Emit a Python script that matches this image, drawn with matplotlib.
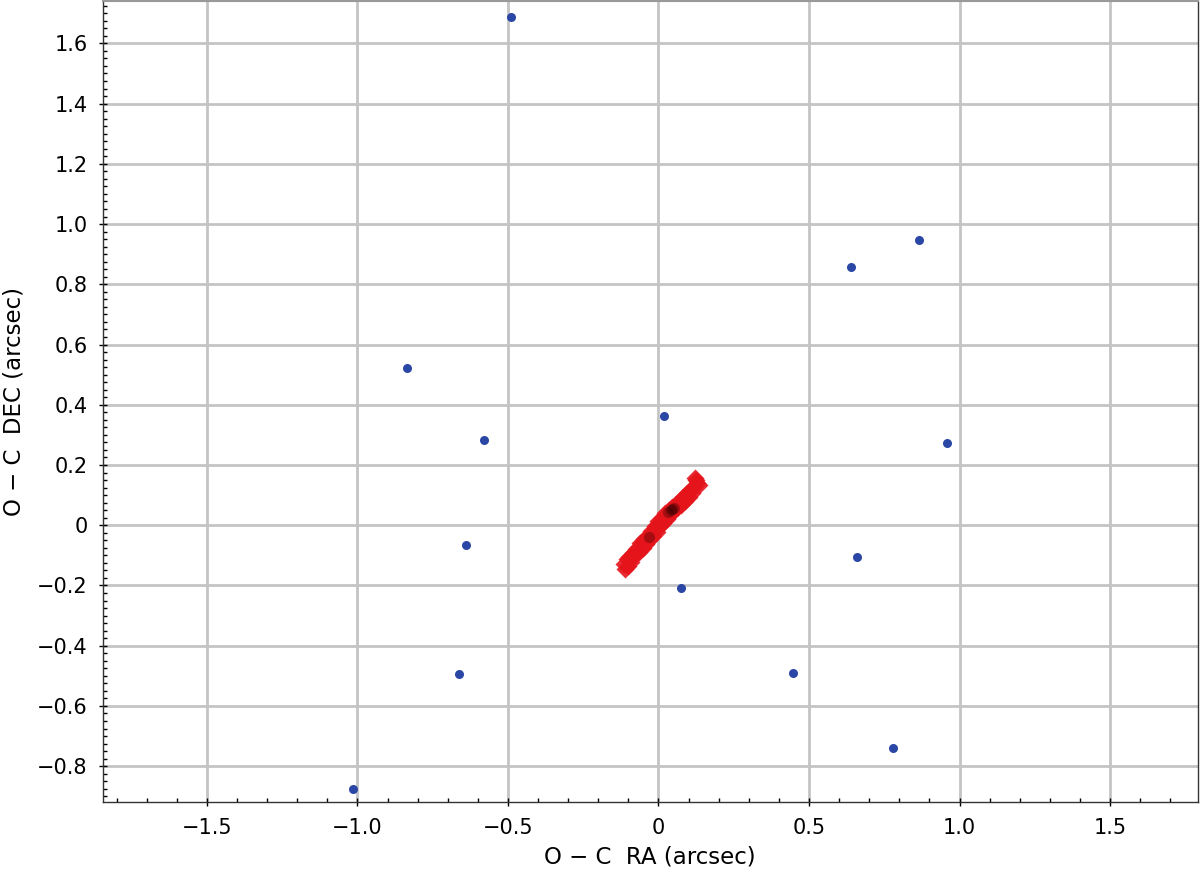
import matplotlib
matplotlib.use("Agg")
import matplotlib.pyplot as plt
from matplotlib.ticker import MultipleLocator, FuncFormatter

# O-C residuals, blue = reference stars, red = target
blue_ra = [-0.490, 0.865, 0.641, -0.837, 0.018, -0.581, 0.958, -0.641,
           0.659, 0.075, -0.663, 0.446, 0.779, -1.016]
blue_dec = [1.688, 0.948, 0.859, 0.522, 0.363, 0.283, 0.274, -0.065,
            -0.107, -0.207, -0.494, -0.492, -0.740, -0.875]

red_ra = [-0.115, -0.112, -0.106, -0.102, -0.097, -0.092, -0.085, -0.078,
          -0.074, -0.066, -0.060, -0.053, -0.048, -0.042, -0.036, -0.030,
          -0.025, -0.018, -0.012, -0.006, 0.000, 0.006, 0.010, 0.016,
          0.022, 0.028, 0.034, 0.040, 0.046, 0.052, 0.058, 0.064, 0.070,
          0.076, 0.082, 0.088, 0.094, 0.100, 0.106, 0.110, 0.118, 0.124,
          0.128, 0.136, 0.120, -0.090, -0.050, -0.010, 0.030, 0.070]
red_dec = [-0.128, -0.147, -0.112, -0.135, -0.105, -0.122, -0.092, -0.100,
           -0.080, -0.088, -0.060, -0.075, -0.045, -0.062, -0.035, -0.050,
           -0.020, -0.035, -0.002, -0.022, 0.015, -0.004, 0.025, 0.008,
           0.040, 0.020, 0.052, 0.038, 0.062, 0.050, 0.070, 0.060, 0.085,
           0.068, 0.095, 0.080, 0.106, 0.095, 0.118, 0.108, 0.128, 0.150,
           0.140, 0.134, 0.158, -0.105, -0.052, -0.008, 0.030, 0.072]

dark_ra = [0.032, 0.040, 0.046, 0.052, -0.030]
dark_dec = [0.044, 0.052, 0.055, 0.058, -0.040]


def fmt(v, pos):
    if abs(v) < 1e-9:
        return "0"
    return f"{v:.1f}".replace("-", "\u2212")


fig = plt.figure(figsize=(12, 8.73), dpi=100)
ax = fig.add_axes([0.0856, 0.081, 0.9125, 0.918])

ax.plot(red_ra, red_dec, 'D', color='#e5141b', ms=9, mec='none', alpha=0.9, zorder=3)
ax.plot(dark_ra, dark_dec, 'o', color='#300000', ms=8, mec='none', alpha=0.35, zorder=4)
ax.plot(blue_ra, blue_dec, 'o', color='#2b47a5', ms=6.5, mec='none', zorder=5)

ax.set_xlim(-1.846, 1.791)
ax.set_ylim(-0.920, 1.741)

ax.xaxis.set_major_locator(MultipleLocator(0.5))
ax.xaxis.set_minor_locator(MultipleLocator(0.1))
ax.yaxis.set_major_locator(MultipleLocator(0.2))
ax.yaxis.set_minor_locator(MultipleLocator(0.025))
ax.xaxis.set_major_formatter(FuncFormatter(fmt))
ax.yaxis.set_major_formatter(FuncFormatter(fmt))

ax.tick_params(which='major', direction='inout', length=6, width=1, labelsize=15, pad=8)
ax.tick_params(which='minor', direction='in', length=3, width=1)

ax.grid(True, which='major', color='#c4c4c4', lw=2)
ax.set_axisbelow(True)

for s in ['left', 'bottom', 'right']:
    ax.spines[s].set_color('#333333')
    ax.spines[s].set_linewidth(1)
ax.spines['top'].set_color('#999999')
ax.spines['top'].set_linewidth(1.5)

ax.set_xlabel("O \u2212 C  RA (arcsec)", fontsize=16.5, labelpad=6)
ax.set_ylabel("O \u2212 C  DEC (arcsec)", fontsize=16.5, labelpad=8)

fig.savefig("out.png", dpi=100)
